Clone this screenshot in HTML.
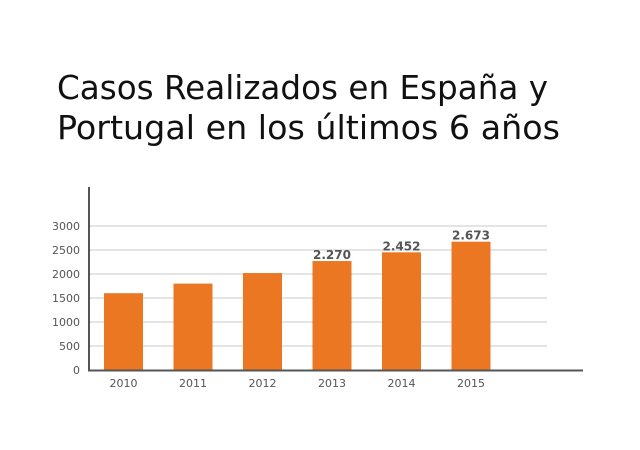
<!DOCTYPE html>
<html><head><meta charset="utf-8"><style>body{margin:0;background:#fff}svg{display:block}</style></head>
<body>
<svg width="640" height="450" xmlns="http://www.w3.org/2000/svg">
<rect width="640" height="450" fill="#fff"/>
<text x="57" y="99" font-family="DejaVu Sans, sans-serif" font-size="33" fill="#111" textLength="491" lengthAdjust="spacingAndGlyphs">Casos Realizados en España y</text>
<text x="57" y="139" font-family="DejaVu Sans, sans-serif" font-size="33" fill="#111" textLength="503" lengthAdjust="spacingAndGlyphs">Portugal en los últimos 6 años</text>
<g id="grid"></g><g id="bars"></g><g id="labels"></g>
<line x1="89" y1="187" x2="89" y2="371" stroke="#555" stroke-width="2"/>
<line x1="88" y1="370.5" x2="583" y2="370.5" stroke="#555" stroke-width="2"/>
</svg>
<script>
const categories=["2010","2011","2012","2013","2014","2015"];
const values=[1600,1800,2020,2270,2452,2673];
const valueLabels=["","","","2.270","2.452","2.673"];
const yTicks=[0,500,1000,1500,2000,2500,3000];
const NS="http://www.w3.org/2000/svg";
const y=v=>370-v*(144/3000);
const x=i=>123.5+i*69.5;
function mk(t,a,p){const e=document.createElementNS(NS,t);for(const k in a)e.setAttribute(k,a[k]);document.getElementById(p).appendChild(e);return e;}
yTicks.forEach(t=>{
  if(t>0){const l=mk('line',{x1:89,x2:547,y1:y(t),y2:y(t),stroke:'#c8c8c8','stroke-width':1},'grid');
  
  }
  const tx=mk('text',{x:80,y:y(t)+4,'text-anchor':'end','font-family':'DejaVu Sans, sans-serif','font-size':11,fill:'#555'},'labels');
  tx.textContent=t;
  
  
});
categories.forEach((c,i)=>{
  const r=mk('rect',{x:x(i)-19.5,y:y(values[i]),width:39,height:370-y(values[i]),fill:'#ec7723'},'bars');
  
  
  const t=mk('text',{x:x(i),y:387,'text-anchor':'middle','font-family':'DejaVu Sans, sans-serif','font-size':11,fill:'#555'},'labels');
  t.textContent=c;
  
  
  if(valueLabels[i]){
    const v=mk('text',{x:x(i),y:y(values[i])-2,'text-anchor':'middle','font-family':'DejaVu Sans, sans-serif','font-size':12,'font-weight':'bold',fill:'#555'},'labels');
    v.textContent=valueLabels[i];
    
    
  }
});
</script>
</body></html>
